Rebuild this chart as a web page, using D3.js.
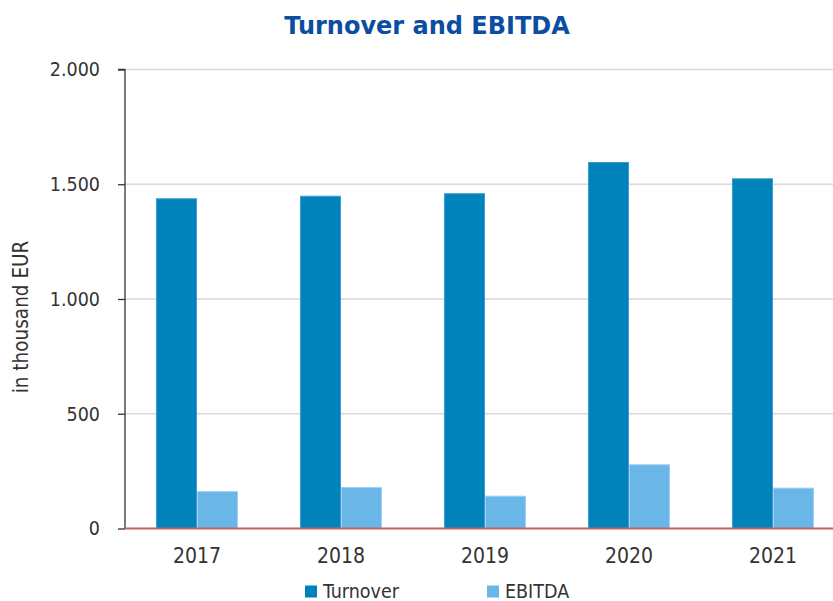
<!DOCTYPE html>
<html>
<head>
<meta charset="utf-8">
<script src="https://cdn.jsdelivr.net/npm/d3@7"></script>
<style>
  html, body { margin: 0; padding: 0; background: #fff; }
  svg { display: block; }
</style>
</head>
<body>
<svg id="chart" width="833" height="601"></svg>
<script>
// Annual figures, in thousand EUR
const years = ["2017", "2018", "2019", "2020", "2021"];
const turnover = [1439, 1450, 1461, 1597, 1526];
const ebitda = [163, 181, 143, 280, 178];
const seriesNames = ["Turnover", "EBITDA"];
const yTicks = [0, 500, 1000, 1500, 2000];

const colors = { Turnover: "#0083bb", EBITDA: "#6bb6e9" };
const borders = { Turnover: "#3a9fd0", EBITDA: "#9fd0f3" };
const fontFamily = "'DejaVu Sans Condensed', 'DejaVu Sans', sans-serif";

const svg = d3.select("#chart");
const plotLeft = 125, plotRight = 845, plotTop = 69.5, plotBottom = 528.5;

const x = d3.scaleBand().domain(years).range([plotLeft, plotRight]).paddingInner(0).paddingOuter(0);
const inner = d3.scaleBand().domain(seriesNames).range([x.bandwidth() * 0.215, x.bandwidth() * 0.785]).padding(0);
const y = d3.scaleLinear().domain([0, 2000]).range([plotBottom, plotTop]);

// Title
svg.append("text")
  .attr("x", 427).attr("y", 33.5)
  .attr("text-anchor", "middle")
  .attr("font-family", "'DejaVu Sans', sans-serif")
  .attr("font-weight", "bold")
  .attr("font-size", 24)
  .attr("fill", "#0a4da2")
  .text("Turnover and EBITDA");

// Horizontal gridlines
svg.append("g").selectAll("line")
  .data(yTicks.filter(d => d > 0))
  .join("line")
  .attr("x1", plotLeft).attr("x2", 833)
  .attr("y1", d => y(d)).attr("y2", d => y(d))
  .attr("stroke", "#d9d9d9").attr("stroke-width", 1.5);

// Y axis
const yAxis = d3.axisLeft(y)
  .tickValues(yTicks)
  .tickSize(7)
  .tickPadding(18)
  .tickFormat(d => d3.format(",")(d).replace(/,/g, "."));
const yg = svg.append("g").attr("transform", `translate(${plotLeft},0)`).call(yAxis);
yg.select(".domain").attr("stroke", "#333").attr("stroke-width", 1.3).attr("d", `M-7,${plotTop}H0V${plotBottom}`);
yg.selectAll(".tick line").attr("stroke", "#333").attr("stroke-width", 1.3);
yg.selectAll(".tick text")
  .attr("font-family", fontFamily).attr("font-size", 19.5).attr("fill", "#333");

// Y axis title
svg.append("text")
  .attr("transform", "translate(28,317) rotate(-90)")
  .attr("text-anchor", "middle")
  .attr("font-family", fontFamily).attr("font-size", 20.5).attr("fill", "#333")
  .text("in thousand EUR");

// Bars
const data = years.map((yr, i) => ({ year: yr, values: [
  { name: "Turnover", value: turnover[i] },
  { name: "EBITDA", value: ebitda[i] }
]}));

const groups = svg.append("g").selectAll("g")
  .data(data).join("g")
  .attr("transform", d => `translate(${x(d.year)},0)`);

groups.selectAll("rect")
  .data(d => d.values).join("rect")
  .attr("x", d => inner(d.name) + 0.5)
  .attr("width", inner.bandwidth() - 1)
  .attr("y", d => y(d.value) + 0.5)
  .attr("height", d => y(0) - y(d.value) - 0.5)
  .attr("fill", d => colors[d.name])
  .attr("stroke", d => borders[d.name])
  .attr("stroke-width", 1);

// Zero baseline
svg.append("line")
  .attr("x1", plotLeft).attr("x2", 833)
  .attr("y1", y(0)).attr("y2", y(0))
  .attr("stroke", "#c0605f").attr("stroke-width", 2);

// X axis labels
const xAxis = d3.axisBottom(x).tickSize(0).tickPadding(20);
const xg = svg.append("g").attr("transform", `translate(0,${plotBottom})`).call(xAxis);
xg.select(".domain").remove();
xg.selectAll(".tick text")
  .attr("font-family", fontFamily).attr("font-size", 21).attr("fill", "#333");

// Legend
const legendX = [305, 487];
const legend = svg.append("g").selectAll("g")
  .data(seriesNames).join("g")
  .attr("transform", (d, i) => `translate(${legendX[i]},585.5)`);
legend.append("rect")
  .attr("width", 12).attr("height", 12)
  .attr("fill", d => colors[d]);
legend.append("text")
  .attr("x", 18).attr("y", 12)
  .attr("font-family", fontFamily).attr("font-size", 19.5).attr("fill", "#333")
  .text(d => d);
</script>
</body>
</html>
